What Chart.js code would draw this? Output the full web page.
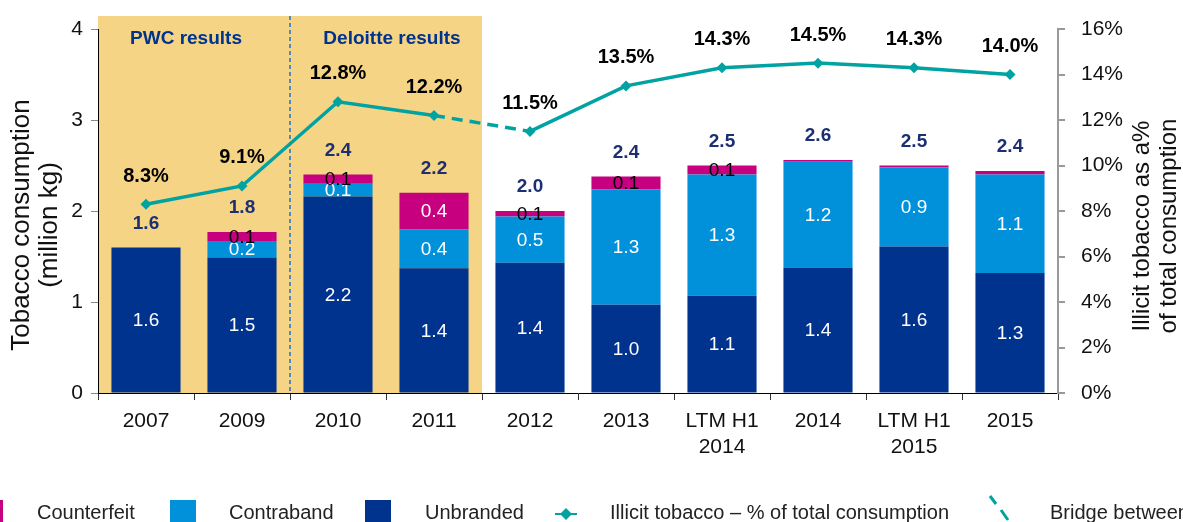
<!DOCTYPE html>
<html>
<head>
<meta charset="utf-8">
<script src="https://cdn.jsdelivr.net/npm/chart.js@4.4.0/dist/chart.umd.min.js"></script>
<style>
  html, body { margin: 0; padding: 0; background: #fff; overflow: hidden; }
  #wrap { width: 1183px; height: 522px; position: relative; }
</style>
</head>
<body>
<div id="wrap"><canvas id="chart"></canvas></div>
<script>
// Illicit tobacco consumption chart
const FONT = "'Liberation Sans', Arial, sans-serif";

// Data
const categories = ['2007', '2009', '2010', '2011', '2012', '2013', ['LTM H1', '2014'], '2014', ['LTM H1', '2015'], '2015'];
const unbranded   = [1.60, 1.49, 2.16, 1.37, 1.43, 0.97, 1.07, 1.38, 1.61, 1.32];
const contraband  = [0.00, 0.18, 0.14, 0.43, 0.51, 1.27, 1.33, 1.16, 0.87, 1.08];
const counterfeit = [0.00, 0.10, 0.10, 0.40, 0.06, 0.14, 0.10, 0.02, 0.02, 0.04];
const illicitPct  = [8.3, 9.1, 12.8, 12.2, 11.5, 13.5, 14.3, 14.5, 14.3, 14.0];
const volumeTicks = [0, 1, 2, 3, 4];
const pctTicks    = [0, 2, 4, 6, 8, 10, 12, 14, 16];

// Colours
const C_UNBRANDED = '#00338D';
const C_CONTRABAND = '#0091DA';
const C_COUNTERFEIT = '#C6007E';
const C_LINE = '#00A3A1';
const C_SHADE = '#F5D486';
const C_NAVY = '#1B2F72';

const overlay = {
    id: 'overlay',
    beforeDraw(chart) {
        const { ctx, chartArea, scales: { x } } = chart;
        const half = (x.getPixelForValue(1) - x.getPixelForValue(0)) / 2;
        const x0 = x.getPixelForValue(0) - half;
        const x1 = x.getPixelForValue(3) + half;
        const xs = x.getPixelForValue(1) + half;
        ctx.save();
        // shaded PWC / Deloitte period
        ctx.fillStyle = C_SHADE;
        ctx.fillRect(x0, 16, x1 - x0, chartArea.bottom - 16);
        // divider
        ctx.strokeStyle = '#1E6FD0';
        ctx.lineWidth = 1.5;
        ctx.setLineDash([4, 3]);
        ctx.beginPath();
        ctx.moveTo(xs, 16);
        ctx.lineTo(xs, chartArea.bottom);
        ctx.stroke();
        ctx.setLineDash([]);
        // section titles
        ctx.fillStyle = C_UNBRANDED;
        ctx.font = 'bold 19px ' + FONT;
        ctx.textAlign = 'center';
        ctx.textBaseline = 'middle';
        ctx.fillText('PWC results', (x0 + xs) / 2 - 8, 39);
        ctx.fillText('Deloitte results', (xs + x1) / 2 + 6, 39);
        ctx.restore();
    },
    afterDatasetsDraw(chart) {
        const { ctx } = chart;
        ctx.save();
        ctx.textAlign = 'center';
        ctx.textBaseline = 'middle';

        // values inside the stacked segments
        ctx.font = '19px ' + FONT;
        [0, 1, 2].forEach(di => {
            const ds = chart.data.datasets[di];
            const meta = chart.getDatasetMeta(di);
            meta.data.forEach((bar, i) => {
                const v = ds.data[i];
                if (di === 2 ? v < 0.05 : v <= 0) return;
                ctx.fillStyle = (di === 2 && v < 0.3) ? '#000' : '#fff';
                ctx.fillText(v.toFixed(1), bar.x, (bar.y + bar.base) / 2 + 1);
            });
        });

        // totals above the bars
        ctx.font = 'bold 19px ' + FONT;
        ctx.fillStyle = C_NAVY;
        const topMeta = chart.getDatasetMeta(2);
        topMeta.data.forEach((bar, i) => {
            const total = unbranded[i] + contraband[i] + counterfeit[i];
            ctx.fillText(total.toFixed(1), bar.x, bar.y - 24);
        });

        // percentage labels above the line points
        ctx.font = 'bold 20px ' + FONT;
        ctx.fillStyle = '#000';
        chart.getDatasetMeta(3).data.forEach((pt, i) => {
            ctx.fillText(illicitPct[i].toFixed(1) + '%', pt.x, pt.y - 28);
        });
        ctx.restore();
    },
    afterDraw(chart) {
        const { ctx } = chart;
        ctx.save();
        ctx.fillStyle = '#111';
        ctx.textAlign = 'center';
        ctx.textBaseline = 'middle';

        // left axis title
        ctx.save();
        ctx.translate(22, 225);
        ctx.rotate(-Math.PI / 2);
        ctx.font = '26px ' + FONT;
        ctx.fillText('Tobacco consumption', 0, 0);
        ctx.fillText('(million kg)', 0, 28);
        ctx.restore();

        // right axis title
        ctx.save();
        ctx.translate(1142, 226);
        ctx.rotate(-Math.PI / 2);
        ctx.font = '24px ' + FONT;
        ctx.fillText('Illicit tobacco as a%', 0, 0);
        ctx.fillText('of total consumption', 0, 27);
        ctx.restore();

        // legend
        const ly = 513;
        ctx.font = '20px ' + FONT;
        ctx.textAlign = 'left';
        ctx.fillStyle = C_COUNTERFEIT;
        ctx.fillRect(-23, 500, 26, 24);
        ctx.fillStyle = C_CONTRABAND;
        ctx.fillRect(170, 500, 26, 24);
        ctx.fillStyle = C_UNBRANDED;
        ctx.fillRect(365, 500, 26, 24);

        ctx.strokeStyle = C_LINE;
        ctx.lineWidth = 2;
        ctx.beginPath();
        ctx.moveTo(555, 514);
        ctx.lineTo(577, 514);
        ctx.stroke();
        ctx.fillStyle = C_LINE;
        ctx.beginPath();
        ctx.moveTo(566, 508);
        ctx.lineTo(572, 514);
        ctx.lineTo(566, 520);
        ctx.lineTo(560, 514);
        ctx.closePath();
        ctx.fill();

        ctx.lineWidth = 3;
        ctx.beginPath();
        ctx.moveTo(990, 496);
        ctx.lineTo(996, 504);
        ctx.moveTo(1001, 510);
        ctx.lineTo(1008, 520);
        ctx.stroke();

        ctx.fillStyle = '#222';
        ctx.fillText('Counterfeit', 37, ly);
        ctx.fillText('Contraband', 229, ly);
        ctx.fillText('Unbranded', 425, ly);
        ctx.fillText('Illicit tobacco \u2013 % of total consumption', 610, ly);
        ctx.fillText('Bridge between PWC and Deloitte results', 1050, ly);
        ctx.restore();
    }
};

const config = {
    type: 'bar',
    data: {
        labels: categories,
        datasets: [
            { label: 'Unbranded', data: unbranded, backgroundColor: C_UNBRANDED, yAxisID: 'y', order: 1 },
            { label: 'Contraband', data: contraband, backgroundColor: C_CONTRABAND, yAxisID: 'y', order: 1 },
            { label: 'Counterfeit', data: counterfeit, backgroundColor: C_COUNTERFEIT, yAxisID: 'y', order: 1 },
            {
                type: 'line',
                label: 'Illicit tobacco \u2013 % of total consumption',
                data: illicitPct,
                yAxisID: 'y1',
                order: 0,
                borderColor: C_LINE,
                backgroundColor: C_LINE,
                borderWidth: 3.5,
                pointStyle: 'rectRot',
                pointRadius: 5.5,
                pointBackgroundColor: C_LINE,
                pointBorderWidth: 0,
                tension: 0,
                segment: {
                    borderDash: ctx => ctx.p0DataIndex === 3 ? [11, 7] : undefined
                }
            }
        ]
    },
    options: {
        responsive: true,
        maintainAspectRatio: false,
        animation: false,
        devicePixelRatio: 1,
        layout: { padding: { top: 29, left: 0, right: 0, bottom: 0 } },
        plugins: {
            legend: { display: false },
            tooltip: { enabled: false }
        },
        scales: {
            x: {
                stacked: true,
                afterFit: scale => { scale.height = 129; },
                grid: { display: true, drawOnChartArea: false, offset: true, tickLength: 7, color: '#333' },
                border: { color: '#000', width: 1 },
                ticks: { color: '#111', padding: 9, font: { size: 21, lineHeight: 1.2 }, maxRotation: 0, autoSkip: false }
            },
            y: {
                stacked: true,
                position: 'left',
                min: 0,
                max: 4,
                afterFit: scale => { scale.width = 98; },
                afterBuildTicks: scale => { scale.ticks = volumeTicks.map(v => ({ value: v })); },
                grid: { drawOnChartArea: false, tickLength: 7, color: '#888' },
                border: { color: '#000', width: 1 },
                ticks: { color: '#111', padding: 8, font: { size: 21 } }
            },
            y1: {
                position: 'right',
                min: 0,
                max: 16,
                afterFit: scale => { scale.width = 125; },
                afterBuildTicks: scale => { scale.ticks = pctTicks.map(v => ({ value: v })); },
                grid: { drawOnChartArea: false, tickLength: 7, color: '#999', lineWidth: 2 },
                border: { color: '#999', width: 2 },
                ticks: { color: '#111', padding: 16, font: { size: 21 }, callback: v => v + '%' }
            }
        }
    },
    plugins: [overlay]
};

Chart.defaults.font.family = FONT;
new Chart(document.getElementById('chart').getContext('2d'), config);
</script>
</body>
</html>
